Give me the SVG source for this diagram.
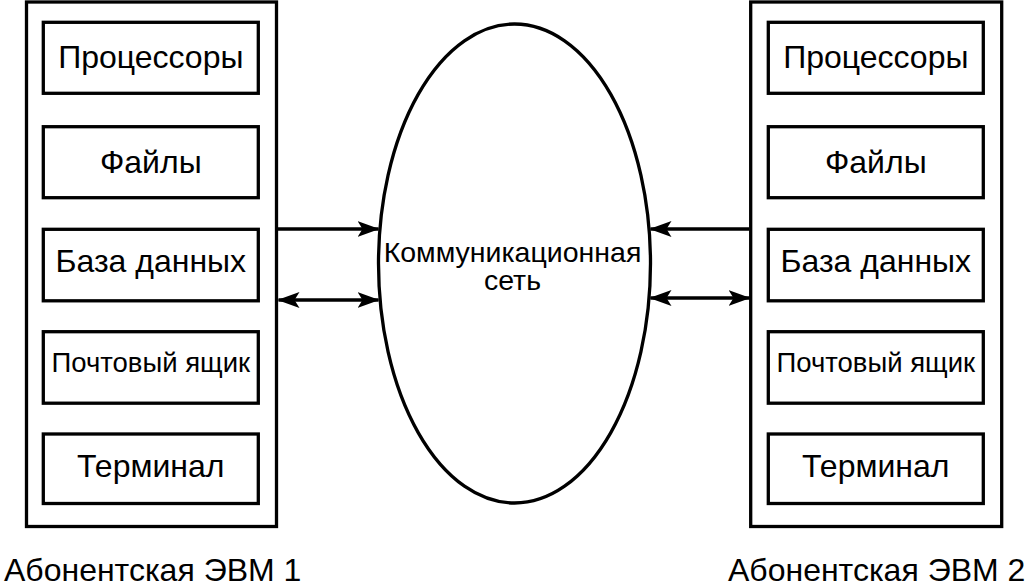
<svg xmlns="http://www.w3.org/2000/svg" width="1033" height="587" viewBox="0 0 1033 587">
<style>
.box{fill:#fff;stroke:#000;stroke-width:3.3}
.t{font-family:"Liberation Sans",Arial,sans-serif;fill:#000;text-anchor:middle}
.lbl{font-size:32px}
.sm{font-size:27.5px}
.net{font-size:28.5px}
.cap{font-family:"Liberation Sans",Arial,sans-serif;font-size:32px;fill:#000}
.ln{stroke:#000;stroke-width:3.3;fill:none}
</style>
<defs>
<marker id="ah" viewBox="0 0 22 16" refX="21" refY="8" markerWidth="22" markerHeight="16" markerUnits="userSpaceOnUse" orient="auto-start-reverse">
<path d="M0,0 L22,8 L0,16 L5,8 Z" fill="#000"/>
</marker>
</defs>
<rect width="1033" height="587" fill="#fff"/>
<g id="host1">
<rect class="box" x="26.5" y="2" width="250" height="524.5"/>
<g id="h1-proc"><rect class="box" x="43.3" y="22.3" width="215" height="71"/><text class="t lbl" x="150.8" y="68">Процессоры</text></g>
<g id="h1-files"><rect class="box" x="43.3" y="126.7" width="215" height="71"/><text class="t lbl" x="150.8" y="173">Файлы</text></g>
<g id="h1-db"><rect class="box" x="43.3" y="229.3" width="215" height="71.5"/><text class="t lbl" x="150.8" y="272">База данных</text></g>
<g id="h1-mail"><rect class="box" x="43.3" y="331.7" width="215" height="71.5"/><text class="t sm" x="150.8" y="372">Почтовый ящик</text></g>
<g id="h1-term"><rect class="box" x="43.3" y="434" width="215" height="69.5"/><text class="t lbl" x="150.8" y="477">Терминал</text></g>
<text class="cap" x="4" y="581">Абонентская ЭВМ 1</text>
</g>
<g id="host2">
<rect class="box" x="750.7" y="2" width="251" height="524.5"/>
<g id="h2-proc"><rect class="box" x="768.3" y="22.3" width="215" height="71"/><text class="t lbl" x="875.8" y="68">Процессоры</text></g>
<g id="h2-files"><rect class="box" x="768.3" y="126.7" width="215" height="71"/><text class="t lbl" x="875.8" y="173">Файлы</text></g>
<g id="h2-db"><rect class="box" x="768.3" y="229.3" width="215" height="71.5"/><text class="t lbl" x="875.8" y="272">База данных</text></g>
<g id="h2-mail"><rect class="box" x="768.3" y="331.7" width="215" height="71.5"/><text class="t sm" x="875.8" y="372">Почтовый ящик</text></g>
<g id="h2-term"><rect class="box" x="768.3" y="434" width="215" height="69.5"/><text class="t lbl" x="875.8" y="477">Терминал</text></g>
<text class="cap" x="728" y="581">Абонентская ЭВМ 2</text>
</g>
<g id="network">
<ellipse class="ln" cx="514.5" cy="263.5" rx="136" ry="239.5"/>
<text class="t net" x="512.5" y="262">Коммуникационная<tspan x="512.5" y="290">сеть</tspan></text>
</g>
<g id="connectors">
<path class="ln" d="M278,229 L378.5,229" marker-end="url(#ah)"/>
<path class="ln" d="M278.5,300 L378.5,300" marker-start="url(#ah)" marker-end="url(#ah)"/>
<path class="ln" d="M749,229 L650.5,229" marker-end="url(#ah)"/>
<path class="ln" d="M650.5,298 L749.5,298" marker-start="url(#ah)" marker-end="url(#ah)"/>
</g>
</svg>
